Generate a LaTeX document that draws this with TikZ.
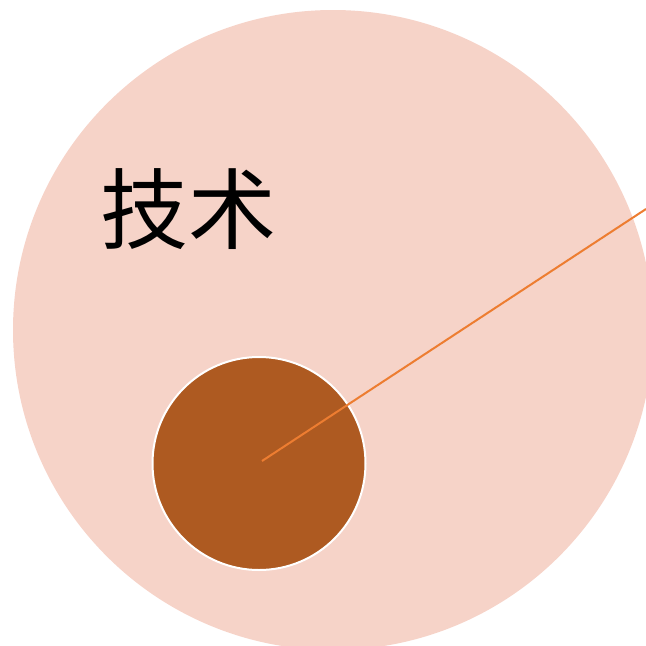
\documentclass[tikz,border=0pt]{standalone}
\usepackage{fontspec}
\newfontfamily\cjk{Noto Sans CJK SC}
\usetikzlibrary{positioning}
\definecolor{TechPink}{RGB}{246,211,200}
\definecolor{TechBrown}{RGB}{174,90,33}
\definecolor{TechOrange}{RGB}{237,125,49}

\begin{document}
\begin{tikzpicture}[x=1pt, y=-1pt,
          outer/.style={circle, fill=TechPink, inner sep=0pt,
                        minimum size=640pt},
          inner/.style={circle, fill=TechBrown, draw=white,
                        line width=2pt, inner sep=0pt, minimum size=213pt},
          lbl/.style={font=\cjk\fontsize{88}{100}\selectfont, text=black,
                      inner sep=0pt},
          ray/.style={TechOrange, line width=2pt}
        ]
        \useasboundingbox (0,0) rectangle (646,646);
        \clip (0,0) rectangle (646,646);

        % Circles
        \node[outer] (tech) at (333, 330) {};
        \node[inner] (core) at (259, 463.5) {};

        % Label
        \node[lbl] (techlbl) at (188.5, 209) {技术};

        % Ray
        \coordinate (raystart) at (262, 461);
        \coordinate (rayend) at (646, 209);
        \draw[ray] (raystart) -- (rayend);
      \end{tikzpicture}
\end{document}
